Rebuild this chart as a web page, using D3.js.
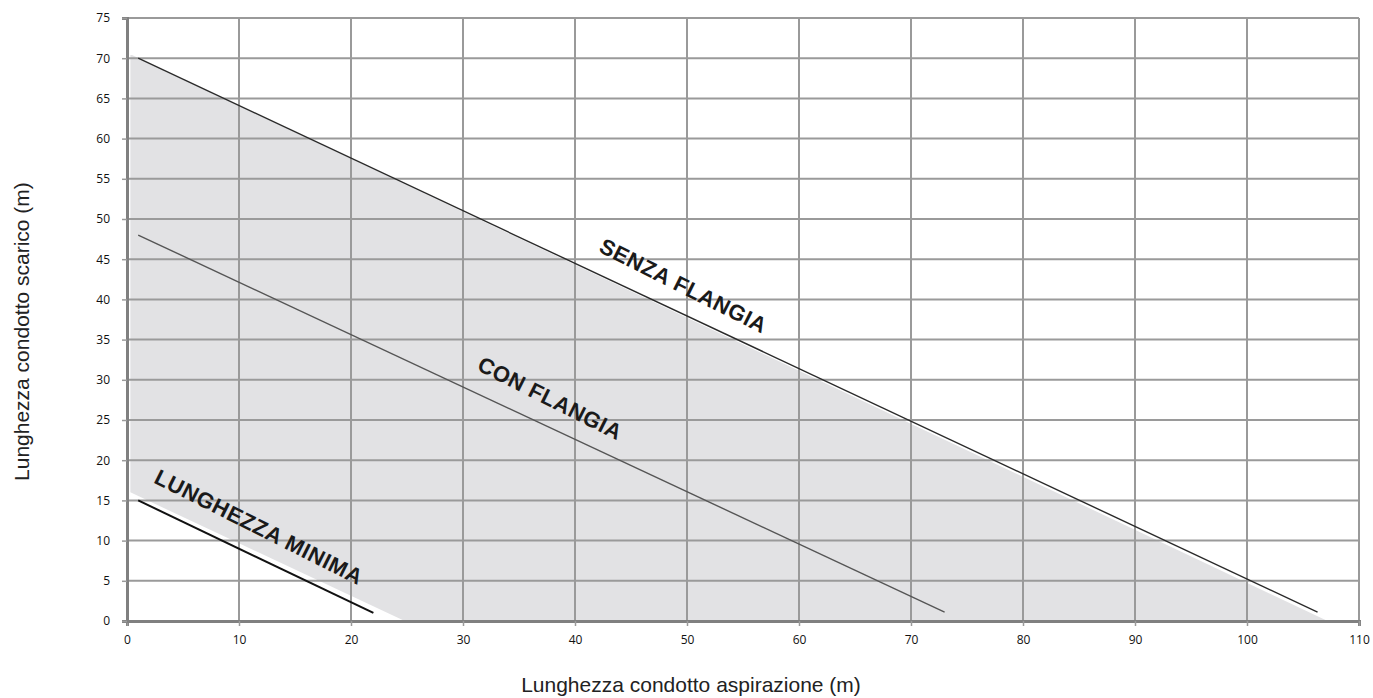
<!DOCTYPE html>
<html>
<head>
<meta charset="utf-8">
<script src="https://cdn.jsdelivr.net/npm/d3@7"></script>
<style>
  body { margin: 0; background: #fff; }
  svg { display: block; }
</style>
</head>
<body>
<div id="chart"></div>
<script>
// ---- data ----
const xTicks = [0, 10, 20, 30, 40, 50, 60, 70, 80, 90, 100, 110];
const yTicks = [0, 5, 10, 15, 20, 25, 30, 35, 40, 45, 50, 55, 60, 65, 70, 75];

// lines: [aspirazione, scarico] end points
const senzaFlangia = [[1, 70], [106.3, 1.1]];
const conFlangia = [[1, 48], [73, 1.1]];
const lunghezzaMinima = [[1, 15], [22, 1]];

// shaded admissible area
const areaPoly = [[0.3, 70.4], [0.3, 16], [24.8, 0], [107.2, 0], [0.45, 70.4]];

const lineLabels = [
    { text: "SENZA FLANGIA", x: 49.6, y: 41.5 },
    { text: "CON FLANGIA", x: 37.7, y: 27.5 },
    { text: "LUNGHEZZA MINIMA", x: 11.7, y: 11.5 }
];

const xTitle = "Lunghezza condotto aspirazione (m)";
const yTitle = "Lunghezza condotto scarico (m)";

// ---- layout ----
const width = 1373, height = 698;
const margin = { top: 18, right: 14, bottom: 77, left: 127 };

const svg = d3.select("#chart").append("svg")
    .attr("width", width)
    .attr("height", height);

const x = d3.scaleLinear().domain([0, 110]).range([margin.left, width - margin.right]);
const y = d3.scaleLinear().domain([0, 75]).range([height - margin.bottom, margin.top]);

// shaded area
svg.append("path")
    .datum(areaPoly)
    .attr("d", d3.line().x(d => x(d[0])).y(d => y(d[1])).curve(d3.curveLinearClosed))
    .attr("fill", "#e2e2e4");

// grid
const grid = svg.append("g");
grid.selectAll("line.v").data(xTicks.filter(d => d > 0)).join("line")
    .attr("x1", d => x(d)).attr("x2", d => x(d))
    .attr("y1", y(0)).attr("y2", y(75))
    .attr("stroke", "#9a9a9a").attr("stroke-width", 2);
grid.selectAll("line.h").data(yTicks.filter(d => d > 0)).join("line")
    .attr("x1", x(0)).attr("x2", x(110))
    .attr("y1", d => y(d)).attr("y2", d => y(d))
    .attr("stroke", "#9a9a9a").attr("stroke-width", 2);

// axes
const xAxis = svg.append("g")
    .attr("transform", `translate(0,${y(0)})`)
    .call(d3.axisBottom(x).tickValues(xTicks).tickSize(5).tickPadding(9));
const yAxis = svg.append("g")
    .attr("transform", `translate(${x(0)},0)`)
    .call(d3.axisLeft(y).tickValues(yTicks).tickSize(5).tickPadding(12));

[xAxis, yAxis].forEach(a => {
    a.select(".domain").attr("stroke", "#808080").attr("stroke-width", 3);
    a.selectAll(".tick line").attr("stroke", "#9a9a9a").attr("stroke-width", 1.5);
    a.selectAll(".tick text")
        .attr("font-family", "'Open Sans', sans-serif")
        .attr("font-size", "12px")
        .attr("fill", "#111");
});

// lines
const lineGen = d3.line().x(d => x(d[0])).y(d => y(d[1]));
svg.append("path").datum(senzaFlangia).attr("d", lineGen)
    .attr("stroke", "#2a2a2a").attr("stroke-width", 1.4).attr("fill", "none");
svg.append("path").datum(conFlangia).attr("d", lineGen)
    .attr("stroke", "#555").attr("stroke-width", 1.4).attr("fill", "none");
svg.append("path").datum(lunghezzaMinima).attr("d", lineGen)
    .attr("stroke", "#111").attr("stroke-width", 2).attr("fill", "none");

// rotated labels
const angle = Math.atan2(y(senzaFlangia[1][1]) - y(senzaFlangia[0][1]),
    x(senzaFlangia[1][0]) - x(senzaFlangia[0][0])) * 180 / Math.PI + 1.5;
svg.selectAll("text.lbl").data(lineLabels).join("text")
    .attr("class", "lbl")
    .attr("transform", d => `translate(${x(d.x)},${y(d.y)}) rotate(${angle})`)
    .attr("text-anchor", "middle")
    .attr("dominant-baseline", "middle")
    .attr("font-family", "'Liberation Sans', Arial, sans-serif")
    .attr("font-weight", "bold")
    .attr("font-size", "22px")
    .attr("letter-spacing", "0.5px")
    .attr("fill", "#1a1a1a")
    .text(d => d.text);

// axis titles
svg.append("text")
    .attr("x", x(50) + 4)
    .attr("y", 692)
    .attr("text-anchor", "middle")
    .attr("font-family", "'Liberation Sans', Arial, sans-serif")
    .attr("font-size", "21px")
    .attr("fill", "#222")
    .text(xTitle);

svg.append("text")
    .attr("transform", `translate(29,${y(36)}) rotate(-90)`)
    .attr("text-anchor", "middle")
    .attr("font-family", "'Liberation Sans', Arial, sans-serif")
    .attr("font-size", "21px")
    .attr("fill", "#222")
    .text(yTitle);
</script>
</body>
</html>
